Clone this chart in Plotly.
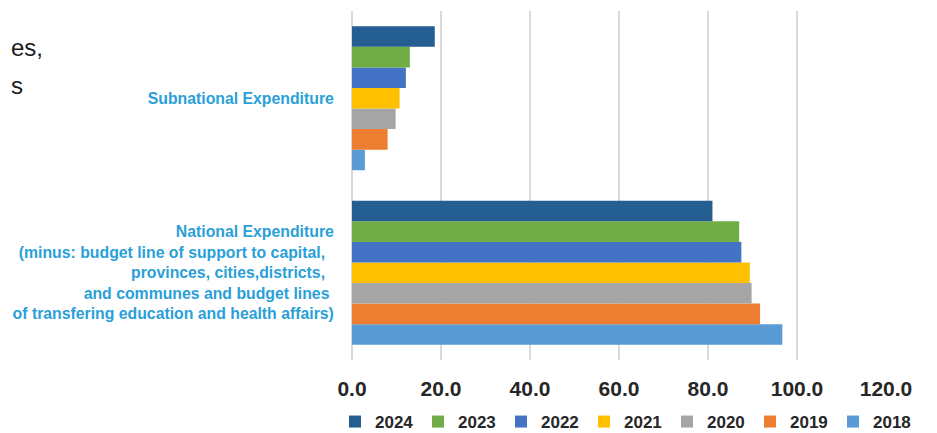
import plotly.graph_objects as go

# ---- data ----
years = ["2024", "2023", "2022", "2021", "2020", "2019", "2018"]
colors = ["#255E91", "#70AD47", "#4472C4", "#FFC000", "#A5A5A5", "#ED7D31", "#5B9BD5"]
categories = ["National", "Subnational"]
category_labels = [
    "National Expenditure<br>"
    "(minus: budget line of support to capital,\u00a0\u00a0<br>"
    "provinces, cities,districts,\u00a0\u00a0<br>"
    "and communes and budget lines\u00a0<br>"
    "of transfering education and health affairs)",
    "Subnational Expenditure",
]
subnational = [18.6, 13.0, 12.1, 10.7, 9.8, 8.0, 2.9]
national = [81.0, 87.0, 87.5, 89.4, 89.8, 91.7, 96.7]
x_tick_values = [0, 20, 40, 60, 80, 100, 120]
x_tick_labels = ["0.0", "20.0", "40.0", "60.0", "80.0", "100.0", "120.0"]

FONT = "Liberation Sans, Arial, sans-serif"

fig = go.Figure()
# add oldest first so it sits at the bottom of each group
for i in reversed(range(len(years))):
    fig.add_trace(go.Bar(
        y=categories,
        x=[national[i], subnational[i]],
        name=years[i],
        orientation="h",
        marker=dict(color=colors[i], line=dict(width=0)),
    ))

# the page body adds an 8px offset; lay out in figure pixels = screen - 8
OFF = 8
W, H = 937, 433
plot_left, plot_right = 352 - OFF, 886 - OFF
plot_top, plot_bottom = 11 - OFF, 360 - OFF
ml, mr, mt, mb = plot_left, W - plot_right, plot_top, H - plot_bottom
pw, ph = plot_right - plot_left, plot_bottom - plot_top

def px_x(p):
    return (p - OFF - plot_left) / pw

def px_y(p):
    return (plot_bottom - (p - OFF)) / ph

fig.update_layout(
    width=W, height=H,
    margin=dict(l=ml, r=mr, t=mt, b=mb, pad=0, autoexpand=False),
    paper_bgcolor="white", plot_bgcolor="white",
    barmode="group", bargap=0.175, bargroupgap=0,
    font=dict(family=FONT),
    xaxis=dict(
        range=[0, 120], tickvals=x_tick_values, ticktext=x_tick_labels,
        showgrid=True, gridcolor="#D9D9D9", gridwidth=2,
        zeroline=True, zerolinecolor="#D9D9D9", zerolinewidth=2,
        showline=False,
        ticks="outside", ticklen=10, tickcolor="rgba(0,0,0,0)",
        tickfont=dict(family=FONT, size=21, color="#262626", weight="bold"),
        fixedrange=True,
    ),
    yaxis=dict(
        categoryorder="array", categoryarray=categories,
        tickvals=categories, ticktext=category_labels,
        showgrid=False, zeroline=False, showline=False,
        ticks="outside", ticklen=14, tickcolor="rgba(0,0,0,0)",
        tickfont=dict(family=FONT, size=15.8, color="#2A9FD8", weight="bold"),
        range=[-0.5, 1.5],
        fixedrange=True,
    ),
    legend=dict(
        orientation="h", traceorder="reversed",
        x=px_x(335), xanchor="left",
        y=px_y(422), yanchor="middle",
        entrywidth=38, entrywidthmode="pixels", itemwidth=30,
        font=dict(family=FONT, size=17, color="#262626", weight="bold"),
        bgcolor="rgba(0,0,0,0)",
    ),
    showlegend=True,
    annotations=[
        dict(text="es,", xref="paper", yref="paper", x=px_x(9), y=px_y(47.5),
             xanchor="left", yanchor="middle", showarrow=False,
             font=dict(family=FONT, size=24, color="#1a1a1a")),
        dict(text="s", xref="paper", yref="paper", x=px_x(9), y=px_y(85.5),
             xanchor="left", yanchor="middle", showarrow=False,
             font=dict(family=FONT, size=24, color="#1a1a1a")),
    ],
)

fig.write_html("out.html")
